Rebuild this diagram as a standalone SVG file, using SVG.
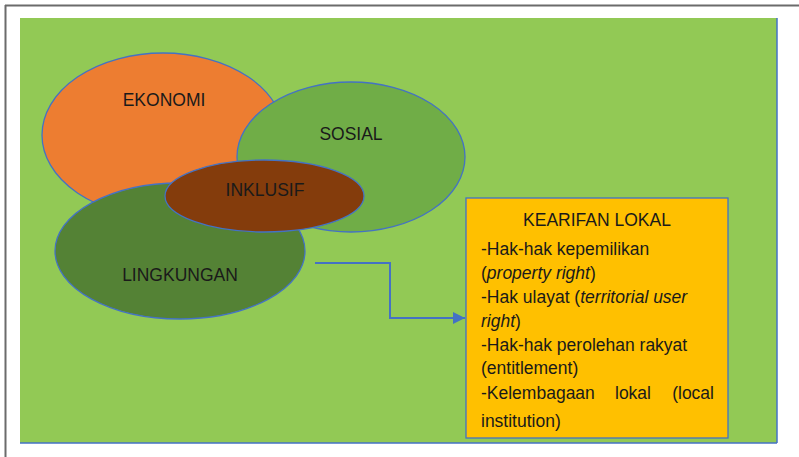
<svg xmlns="http://www.w3.org/2000/svg" width="799" height="457" viewBox="0 0 799 457">
  <defs>
    <marker id="arrowHead" viewBox="0 0 10 10" refX="10" refY="5" markerWidth="6" markerHeight="6" markerUnits="strokeWidth" orient="auto">
      <path d="M0,0 L10,5 L0,10 z" fill="#4472C4"/>
    </marker>
  </defs>
  <style>
    .frame { stroke: #6b6b6b; stroke-width: 2; fill: none; }
    .blob { stroke: #4472C4; stroke-width: 1.3; }
    .lbl { font-family: "Liberation Sans", Arial, sans-serif; font-size: 17.5px; fill: #1a1a1a; text-anchor: middle; }
    .body { font-family: "Liberation Sans", Arial, sans-serif; font-size: 17.5px; fill: #1a1a1a; }
    .link { stroke: #4472C4; stroke-width: 2; fill: none; }
  </style>

  <!-- page background and frame -->
  <rect x="0" y="0" width="799" height="457" fill="#ffffff"/>
  <line class="frame" x1="5" y1="5.5" x2="799" y2="5.5"/>
  <line class="frame" x1="5.5" y1="5" x2="5.5" y2="457"/>

  <!-- green canvas -->
  <rect x="20" y="18" width="757" height="425" fill="#92C955"/>
  <line x1="777" y1="18" x2="777" y2="443" stroke="#4472C4" stroke-width="1.5"/>
  <line x1="20" y1="443" x2="777" y2="443" stroke="#4472C4" stroke-width="1.5"/>

  <g id="ekonomi">
    <ellipse class="blob" cx="163" cy="135" rx="121" ry="82" fill="#ED7D31"/>
    <text class="lbl" x="164" y="106">EKONOMI</text>
  </g>

  <g id="sosial">
    <ellipse class="blob" cx="351" cy="157" rx="114" ry="75" fill="#70AD47"/>
    <text class="lbl" x="351" y="140">SOSIAL</text>
  </g>

  <g id="lingkungan">
    <ellipse class="blob" cx="180" cy="251" rx="125" ry="68" fill="#548235"/>
    <text class="lbl" x="180" y="281">LINGKUNGAN</text>
  </g>

  <g id="inklusif">
    <ellipse class="blob" cx="264.5" cy="196" rx="99.5" ry="36" fill="#843C0C"/>
    <text class="lbl" x="265" y="196">INKLUSIF</text>
  </g>

  <g id="kearifan-lokal">
    <rect x="466" y="198" width="262" height="240" fill="#FFC000" stroke="#4472C4" stroke-width="1.3"/>
    <text class="lbl" x="597" y="226">KEARIFAN LOKAL</text>
    <text class="body" x="481" y="255">-Hak-hak kepemilikan</text>
    <text class="body" x="481" y="279">(<tspan font-style="italic">property right</tspan>)</text>
    <text class="body" x="481" y="303">-Hak ulayat (<tspan font-style="italic">territorial user</tspan></text>
    <text class="body" x="481" y="327"><tspan font-style="italic">right</tspan>)</text>
    <text class="body" x="481" y="351">-Hak-hak perolehan rakyat</text>
    <text class="body" x="481" y="374">(entitlement)</text>
    <text class="body" x="481" y="399">-Kelembagaan</text>
    <text class="body" x="633" y="399" text-anchor="middle">lokal</text>
    <text class="body" x="714" y="399" text-anchor="end">(local</text>
    <text class="body" x="481" y="427">institution)</text>
  </g>

  <g id="connectors">
    <polyline class="link" points="315,263 390,263 390,318 465,318" marker-end="url(#arrowHead)"/>
  </g>
</svg>
